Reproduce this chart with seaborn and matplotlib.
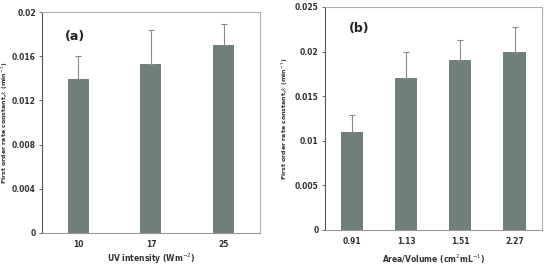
import matplotlib
matplotlib.use("Agg")
import matplotlib.pyplot as plt
import seaborn as sns
import numpy as np

# panel (a)
uv_labels = ["10", "17", "25"]
uv_k = [0.0139, 0.0153, 0.0170]
uv_err = [0.0021, 0.0031, 0.0019]

# panel (b)
av_labels = ["0.91", "1.13", "1.51", "2.27"]
av_k = [0.0110, 0.0170, 0.0190, 0.0200]
av_err = [0.0019, 0.0030, 0.0023, 0.0028]

bar_col = "#717f7b"

sns.set_style("white")
plt.rcParams['font.family'] = ['DejaVu Sans']

fig = plt.figure(figsize=(5.46, 2.68), dpi=100)
ax1 = fig.add_axes([0.077, 0.131, 0.399, 0.824])
ax2 = fig.add_axes([0.595, 0.142, 0.397, 0.832])


def panel(ax, labels, vals, errs, width, ymax, yticks, ytl, xlabel, tag, tagpos, ylx, xly):
    sns.barplot(x=labels, y=vals, color=bar_col, width=width, ax=ax,
                saturation=1, linewidth=0)
    x = np.arange(len(labels))
    ax.errorbar(x, vals, yerr=[np.zeros(len(errs)), errs], fmt="none",
                ecolor="#8a8a8a", elinewidth=0.8, capsize=2.5, capthick=0.8)
    ax.set_xlim(-0.5, len(labels) - 0.5)
    ax.set_ylim(0, ymax)
    ax.set_yticks(yticks)
    ax.set_yticklabels(ytl, fontsize=5.5, fontweight="bold", color="#333333")
    ax.set_xticks(x)
    ax.set_xticklabels(labels, fontsize=5.5, fontweight="bold", color="#333333")
    ax.set_xticks(np.arange(len(labels) + 1) - 0.5, minor=True)
    ax.tick_params(axis="x", which="major", length=0, pad=5)
    ax.tick_params(axis="x", which="minor", length=2.5, width=0.6, color="#888888", direction="out")
    ax.tick_params(axis="y", length=2.5, width=0.6, color="#555555", direction="out", left=True, pad=2)
    ax.set_xlabel(xlabel, fontsize=5.5, fontweight="bold", color="#333333")
    ax.set_ylabel("First order rate constant,$k$ (min$^{-1}$)", fontsize=4.5,
                  fontweight="bold", color="#333333")
    ax.yaxis.set_label_coords(ylx, 0.5)
    ax.xaxis.set_label_coords(0.5, xly)
    for s in ["top", "right"]:
        ax.spines[s].set_color("#b0b0b0")
        ax.spines[s].set_linewidth(0.8)
    ax.spines["left"].set_color("#555555")
    ax.spines["left"].set_linewidth(0.8)
    ax.spines["bottom"].set_color("#999999")
    ax.spines["bottom"].set_linewidth(0.8)
    ax.text(tagpos[0], tagpos[1], tag, transform=ax.transAxes, fontsize=9,
            fontweight="bold", color="#222222", va="center")


panel(ax1, uv_labels, uv_k, uv_err, 0.29, 0.02,
      [0, 0.004, 0.008, 0.012, 0.016, 0.02],
      ["0", "0.004", "0.008", "0.012", "0.016", "0.02"],
      "UV intensity (Wm$^{-2}$)", "(a)", (0.105, 0.89), -0.148, -0.085)
panel(ax2, av_labels, av_k, av_err, 0.41, 0.025,
      [0, 0.005, 0.01, 0.015, 0.02, 0.025],
      ["0", "0.005", "0.01", "0.015", "0.02", "0.025"],
      "Area/Volume (cm$^{2}$mL$^{-1}$)", "(b)", (0.11, 0.905), -0.16, -0.10)

fig.savefig("out.png", dpi=100)
